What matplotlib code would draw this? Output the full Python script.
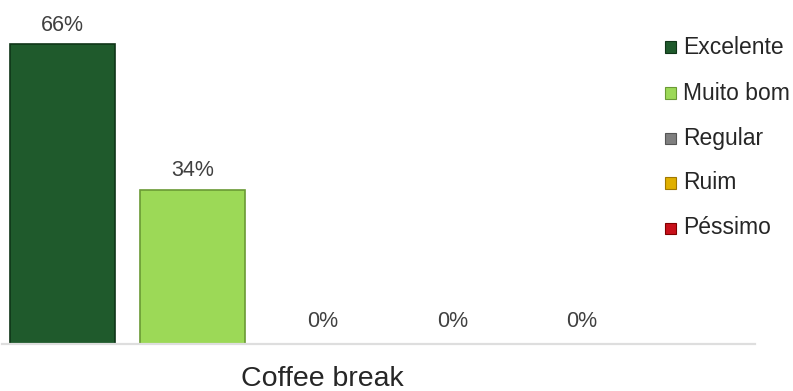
import matplotlib
matplotlib.use("Agg")
import matplotlib.pyplot as plt
from matplotlib.patches import Rectangle

plt.rcParams['font.family'] = ['Liberation Sans', 'DejaVu Sans']

category = "Coffee break"
series = ["Excelente", "Muito bom", "Regular", "Ruim", "Péssimo"]
values = [66, 34, 0, 0, 0]
labels = ["66%", "34%", "0%", "0%", "0%"]
colors = ["#1f5a2c", "#9cd957", "#7f7f7f", "#e0b000", "#c8101a"]
edges = ["#0f3518", "#6a9a35", "#555555", "#a07800", "#800000"]

W, H = 793, 391
fig = plt.figure(figsize=(W / 100, H / 100), dpi=100)
base_y = 344
ax = fig.add_axes([2 / W, (H - base_y) / H, 753 / W, 318 / H])

x = list(range(len(series)))
ax.bar(x, values, width=0.81, color=colors, edgecolor=edges, linewidth=1.2, zorder=2)
for xi, v, lab in zip(x, values, labels):
    off = 9.4 if v > 0 else 12.0  # points above bar top (baseline)
    ax.annotate(lab, (xi, v), xytext=(0, off), textcoords='offset points',
                ha='center', va='baseline', fontsize=15.5, color='#404040')

ax.set_xlim(-0.465, 5.33)
ax.set_ylim(0, 70)
for s in ['top', 'right', 'left']:
    ax.spines[s].set_visible(False)
ax.spines['bottom'].set_color('#dedede')
ax.spines['bottom'].set_linewidth(1.6)
ax.set_xticks([])
ax.set_yticks([])

# category label centred under the group (baseline ~42 px below axis)
ax.annotate(category, (2, 0), xytext=(0, -30), textcoords='offset points',
            ha='center', va='baseline', fontsize=20.5, color='#262626',
            annotation_clip=False)

# legend
row_y = [47, 93, 138, 183, 228]
for c, e, name, yy in zip(colors, edges, series, row_y):
    fig.patches.append(Rectangle((665 / W, (H - yy - 5.5) / H), 11 / W, 11 / H,
                                 transform=fig.transFigure, facecolor=c,
                                 edgecolor=e, linewidth=0.8))
    fig.text(683 / W, (H - yy) / H, name, ha='left', va='center',
             fontsize=16.5, color='#262626')

fig.savefig("out.png", dpi=100)
